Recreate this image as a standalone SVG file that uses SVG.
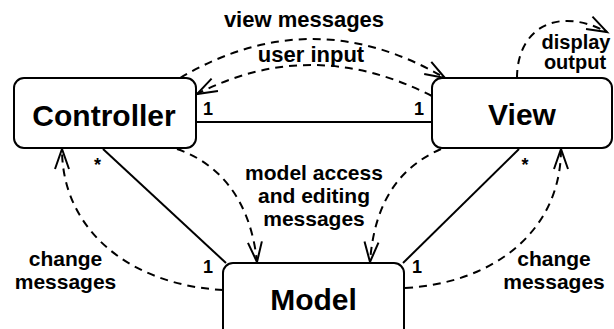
<svg xmlns="http://www.w3.org/2000/svg" width="614" height="329" viewBox="0 0 614 329">
<style>
.box{fill:#fff;stroke:#000;stroke-width:2}
.t{font-family:"Liberation Sans",Arial,sans-serif;font-weight:bold;fill:#000}
.node{font-size:30px;text-anchor:middle}
.lbl{font-size:22px;text-anchor:middle}
.ml{font-size:21px;text-anchor:middle}
.sm{font-size:20px;text-anchor:middle}
.mult{font-size:18px}
.solid{fill:none;stroke:#000;stroke-width:2}
.dash{fill:none;stroke:#000;stroke-width:2;stroke-dasharray:8,6}
</style>
<defs>
<marker id="arr" markerUnits="userSpaceOnUse" markerWidth="26" markerHeight="20" refX="20" refY="8" orient="auto" overflow="visible">
<path d="M0,1 L20,8 L0,15" fill="none" stroke="#000" stroke-width="2" stroke-dasharray="none"/>
</marker>
</defs>
<g id="connectors">
<line class="solid" x1="197" y1="122" x2="431" y2="122"/>
<line class="solid" x1="103" y1="149" x2="226" y2="263"/>
<line class="solid" x1="519" y1="149" x2="403" y2="263"/>
<path class="dash" d="M180,78 Q312,0 445,78" marker-end="url(#arr)"/>
<path class="dash" d="M432,96 Q312,35 197,94" marker-end="url(#arr)"/>
<path class="dash" d="M517,78 C517,30 555,5 607,32" marker-end="url(#arr)"/>
<path class="dash" d="M177,149 C215,162 250,195 257,262" marker-end="url(#arr)"/>
<path class="dash" d="M441,149 C405,165 375,195 370,262" marker-end="url(#arr)"/>
<path class="dash" d="M223,290 C130,285 62,230 62,149" marker-end="url(#arr)"/>
<path class="dash" d="M405,288 C495,283 561,230 561,149" marker-end="url(#arr)"/>
<text class="t mult" x="203" y="115">1</text>
<text class="t mult" x="424" y="115" text-anchor="end">1</text>
<text class="t mult" x="97.5" y="171" text-anchor="middle">*</text>
<text class="t mult" x="525" y="171" text-anchor="middle">*</text>
<text class="t mult" x="203" y="273">1</text>
<text class="t mult" x="412" y="273">1</text>
<text class="t lbl" x="304" y="27">view messages</text>
<text class="t lbl" x="311" y="62">user input</text>
<text class="t sm" x="576" y="49">display</text>
<text class="t sm" x="575" y="69">output</text>
<text class="t ml" x="314" y="180">model access</text>
<text class="t ml" x="314" y="203">and editing</text>
<text class="t ml" x="314" y="226">messages</text>
<text class="t ml" x="65.5" y="265.5">change</text>
<text class="t ml" x="65.5" y="288.5">messages</text>
<text class="t ml" x="554" y="265.5">change</text>
<text class="t ml" x="554" y="288.5">messages</text>
</g>
<g id="controller">
<rect class="box" x="14" y="78" width="182" height="70" rx="10"/>
<text class="t node" x="104" y="126">Controller</text>
</g>
<g id="view">
<rect class="box" x="432" y="78" width="180" height="70" rx="10"/>
<text class="t node" x="522" y="125">View</text>
</g>
<g id="model">
<rect class="box" x="223" y="263" width="181" height="80" rx="10"/>
<text class="t node" x="313.5" y="310">Model</text>
</g>
</svg>
